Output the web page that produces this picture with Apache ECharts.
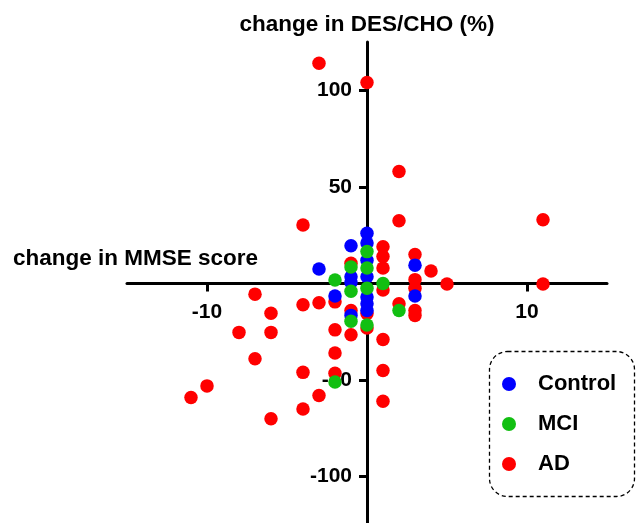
<!DOCTYPE html>
<html>
<head>
<meta charset="utf-8">
<script src="https://cdn.jsdelivr.net/npm/echarts@6/dist/echarts.min.js"></script>
<style>
html,body{margin:0;padding:0;background:#fff;}
#chart{width:636px;height:523px;}
</style>
</head>
<body>
<div id="chart"></div>
<script>
// Data: [change in MMSE score, change in DES/CHO (%)]
const adPoints = [
  [-3, 114], [0, 104], [2, 58], [11, 33], [2, 32.5], [-4, 30.3],
  [1, 19], [1, 14], [1, 8], [1, -3.4], [1, -29], [1, -45], [1, -61],
  [3, 15], [3, 2], [3, -2.5], [3, -14], [3, -16.5],
  [4, 6.5], [5, -0.3], [11, -0.3],
  [2, -10.5],
  [0, -15.5], [0, -23],
  [-1, 10.5], [-1, -14], [-1, -26.5],
  [-2, -9.5], [-2, -24], [-2, -36], [-2, -46.5],
  [-3, -10], [-3, -58],
  [-4, -11], [-4, -46], [-4, -65],
  [-6, -15.4], [-6, -25.3], [-6, -70],
  [-7, -5.5], [-7, -39],
  [-8, -25.3], [-10, -53], [-11, -59]
];
const controlPoints = [
  [0, 26], [0, 21], [0, 12], [0, 3.5], [0, -7], [0, -10.5], [0, -14],
  [-1, 19.5], [-1, 3.5], [-1, 0.5], [-1, -16.5],
  [-2, -6.5], [-3, 7.5], [3, 9.5], [3, -6.5]
];
const mciPoints = [
  [0, 16.5], [0, 8], [0, -2.5], [0, -21.5],
  [-1, 8.5], [-1, -4], [-1, -19.5],
  [-2, 1.8], [-2, -51], [1, 0], [2, -14]
];
const groupNames = ['Control', 'MCI', 'AD'];
const xTickValues = [-10, 10];
const yTickValues = [-100, -50, 50, 100];
const xRange = [-15, 15];
const yRange = [-125, 125];
const xTitle = 'change in MMSE score';
const yTitle = 'change in DES/CHO (%)';

const FONT = '"Liberation Sans", Arial, Helvetica, sans-serif';
const colors = { Control: '#0000FF', MCI: '#12BF12', AD: '#FF0000' };
const labelStyle = { fontSize: 21, fontWeight: 'bold', color: '#000', fontFamily: FONT };
const bigStyle = { fontSize: 22.5, fontWeight: 'bold', color: '#000', fontFamily: FONT };

const chart = echarts.init(document.getElementById('chart'), null, { renderer: 'canvas' });
function scatter(name, data) {
  return {
    name: name, type: 'scatter', data: data,
    symbol: 'circle', symbolSize: 13.5,
    itemStyle: { color: colors[name], opacity: 1 },
    emphasis: { disabled: true },
    animation: false
  };
}
chart.setOption({
  animation: false,
  backgroundColor: '#fff',
  title: [
    { text: yTitle, left: 367, top: 13, textAlign: 'center', padding: 0,
      textStyle: Object.assign({}, bigStyle) },
    { text: xTitle, left: 13, top: 247, padding: 0,
      textStyle: Object.assign({}, bigStyle) }
  ],
  grid: { left: 127, right: 29, top: 42, bottom: -2, outerBoundsMode: 'none', containLabel: false },
  xAxis: {
    type: 'value', min: xRange[0], max: xRange[1],
    splitLine: { show: false },
    axisLine: { onZero: false, lineStyle: { color: '#000', width: 3 } },
    axisTick: { show: true, customValues: xTickValues, length: 8, lineStyle: { color: '#000', width: 3 } },
    axisLabel: Object.assign({ customValues: xTickValues, margin: 18.5 }, labelStyle)
  },
  yAxis: {
    type: 'value', min: yRange[0], max: yRange[1],
    splitLine: { show: false },
    axisLine: { onZero: false, lineStyle: { color: '#000', width: 3 } },
    axisTick: { show: true, customValues: yTickValues, length: 8, lineStyle: { color: '#000', width: 3 } },
    axisLabel: Object.assign({ customValues: yTickValues, margin: 15 }, labelStyle)
  },
  legend: {
    orient: 'vertical', left: 502, top: 373, padding: 0,
    itemWidth: 14, itemHeight: 14, itemGap: 18,
    icon: 'circle', selectedMode: false,
    data: groupNames,
    textStyle: { fontSize: 22, fontWeight: 'bold', color: '#000', fontFamily: FONT, padding: [0, 0, 0, 17], lineHeight: 20 }
  },
  graphic: [{
    type: 'rect', left: 487, top: 349, silent: true, z: 0,
    shape: { width: 145, height: 145, r: 18 },
    style: { fill: 'none', stroke: '#000', lineWidth: 1.3, lineDash: [4, 3] }
  }],
  series: [scatter('AD', adPoints), scatter('Control', controlPoints), scatter('MCI', mciPoints)]
});
// Move both axes so they cross at the origin (derived from the library's own scales).
const yZero = chart.convertToPixel({ yAxisIndex: 0 }, 0);
const yBottom = chart.convertToPixel({ yAxisIndex: 0 }, yRange[0]);
const xZero = chart.convertToPixel({ xAxisIndex: 0 }, 0);
const xLeft = chart.convertToPixel({ xAxisIndex: 0 }, xRange[0]);
chart.setOption({
  xAxis: { offset: -(yBottom - yZero) },
  yAxis: { offset: -(xZero - xLeft) }
});
</script>
</body>
</html>
